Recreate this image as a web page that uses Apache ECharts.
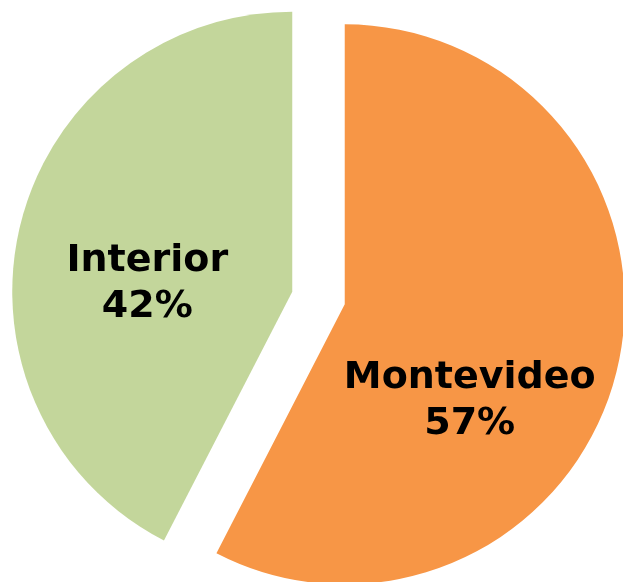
<!DOCTYPE html>
<html>
<head>
<meta charset="utf-8">
<script src="https://cdn.jsdelivr.net/npm/echarts@6/dist/echarts.min.js"></script>
<style>
html, body { margin: 0; padding: 0; background: #fff; }
#pieChart { width: 623px; height: 582px; }
</style>
</head>
<body>
<div id="pieChart"></div>
<script>
// slices, clockwise from 12 o'clock
var categories = ['Montevideo', 'Interior']
var values = [57, 42]
var colors = ['#F79646', '#C3D69B']
// nudge of each label away from the default inside spot
var labelShift = [[-14, 63], [-6, 26]]

var chart = echarts.init(document.getElementById('pieChart'))
var option = {
  animation: false,
  series: [{
    type: 'pie',
    center: [318.5, 298],
    radius: [0, 280],
    startAngle: 90,
    clockwise: true,
    selectedMode: 'multiple',
    selectedOffset: 27,
    avoidLabelOverlap: false,
    data: categories.map(function (name, i) {
      return {
        name: name,
        value: values[i],
        selected: true,
        itemStyle: { color: colors[i] }
      }
    }),
    label: {
      show: true,
      position: 'inside',
      formatter: function (p) {
        return p.name + '\n' + p.value + '%'
      },
      color: '#000',
      fontFamily: 'DejaVu Sans',
      fontWeight: 'bold',
      fontSize: 38,
      lineHeight: 46,
      align: 'center'
    },
    labelLine: { show: false },
    labelLayout: function (params) {
      var s = labelShift[params.dataIndex]
      return { dx: s[0], dy: s[1] }
    },
    emphasis: { disabled: true }
  }]
}
chart.setOption(option)
</script>
</body>
</html>
